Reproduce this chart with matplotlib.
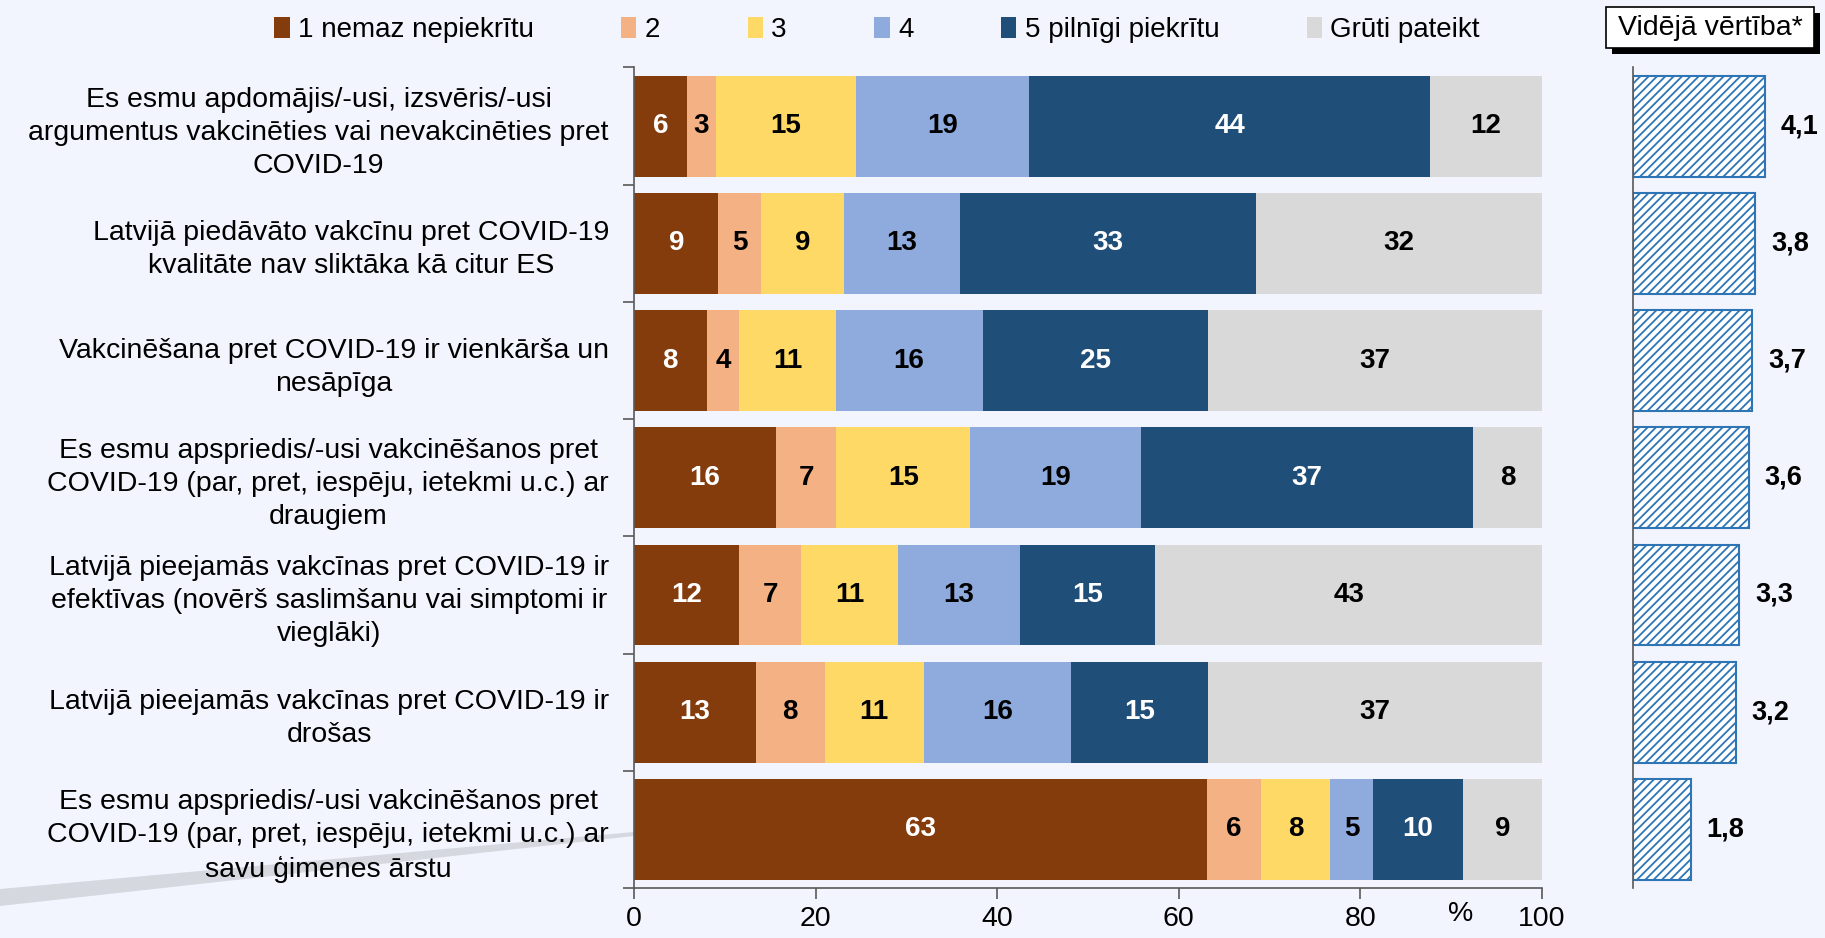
import matplotlib

matplotlib.use("Agg")
import matplotlib.pyplot as plt
from matplotlib.patches import Patch, Rectangle, Polygon

plt.rcParams.update(
    {
        "font.family": ["Liberation Sans", "DejaVu Sans"],
        "font.size": 20,
        "hatch.linewidth": 1.3,
    }
)

BG = "#F2F4FE"

statements = [
    "Es esmu apdomājis/-usi, izsvēris/-usi\nargumentus vakcinēties vai nevakcinēties pret\nCOVID-19",
    "Latvijā piedāvāto vakcīnu pret COVID-19\nkvalitāte nav sliktāka kā citur ES",
    "Vakcinēšana pret COVID-19 ir vienkārša un\nnesāpīga",
    "Es esmu apspriedis/-usi vakcinēšanos pret\nCOVID-19 (par, pret, iespēju, ietekmi u.c.) ar\ndraugiem",
    "Latvijā pieejamās vakcīnas pret COVID-19 ir\nefektīvas (novērš saslimšanu vai simptomi ir\nvieglāki)",
    "Latvijā pieejamās vakcīnas pret COVID-19 ir\ndrošas",
    "Es esmu apspriedis/-usi vakcinēšanos pret\nCOVID-19 (par, pret, iespēju, ietekmi u.c.) ar\nsavu ģimenes ārstu",
]

answers = ["1 nemaz nepiekrītu", "2", "3", "4", "5 pilnīgi piekrītu", "Grūti pateikt"]
colors = ["#843C0C", "#F4B183", "#FFD966", "#8FAADC", "#1F4E79", "#D9D9D9"]
text_colors = ["white", "black", "black", "black", "white", "black"]

# shares in %, one list per answer, rows in the order of statements
s1 = [5.8, 9.3, 8.0, 15.6, 11.6, 13.4, 63.1]
s2 = [3.2, 4.7, 3.6, 6.7, 6.8, 7.6, 5.9]
s3 = [15.4, 9.1, 10.6, 14.7, 10.7, 10.9, 7.7]
s4 = [19.1, 12.8, 16.2, 18.8, 13.4, 16.2, 4.7]
s5 = [44.2, 32.6, 24.8, 36.6, 14.9, 15.1, 9.9]
s_dk = [12.3, 31.5, 36.8, 7.6, 42.6, 36.8, 8.7]
shares = [s1, s2, s3, s4, s5, s_dk]

means = [4.1, 3.8, 3.7, 3.6, 3.3, 3.2, 1.8]

fig = plt.figure(figsize=(18.25, 9.38), dpi=100, facecolor=BG)

# decorative grey streak bottom left
fig.patches.append(
    Polygon(
        [(0, 1 - 889 / 938), (634 / 1825, 1 - 832 / 938), (634 / 1825, 1 - 836 / 938), (0, 1 - 906 / 938)],
        closed=True,
        transform=fig.transFigure,
        facecolor="#D6D8E0",
        edgecolor="none",
        zorder=-5,
    )
)

ax = fig.add_axes([634 / 1825, 1 - 888 / 938, 908 / 1825, 820.5 / 938])
ax.set_facecolor("none")
ax.set_zorder(2)

n = len(statements)
ypos = list(range(n))
left = [0.0] * n
for vals, col, tcol in zip(shares, colors, text_colors):
    ax.barh(ypos, vals, left=left, height=0.86, color=col, edgecolor="none", zorder=2)
    for y, v, l in zip(ypos, vals, left):
        ax.text(l + v / 2, y, f"{v:.0f}", ha="center", va="center",
                color=tcol, fontsize=20, fontweight="bold", zorder=3)
    left = [a + b for a, b in zip(left, vals)]

ax.set_xlim(0, 100)
ax.set_ylim(n - 0.5, -0.5)
ax.set_xticks([0, 20, 40, 60, 80, 100])
ax.tick_params(axis="x", length=8, width=1.2, color="#595959", pad=5, labelsize=20.5)
ax.set_yticks(ypos)
ax.set_yticklabels(statements, ha="right", ma="center", linespacing=1.35)
ax.tick_params(axis="y", which="major", length=0, pad=18, labelsize=20.5)
ax.set_yticks([i - 0.5 for i in range(n + 1)], minor=True)
ax.tick_params(axis="y", which="minor", length=8, width=1.2, color="#595959")
for side in ["top", "right"]:
    ax.spines[side].set_visible(False)
for side in ["left", "bottom"]:
    ax.spines[side].set_color("#595959")
    ax.spines[side].set_linewidth(1.2)

ax.annotate("%", xy=(91, 0), xycoords=("data", "axes fraction"),
            xytext=(0, -19), textcoords="offset points",
            ha="center", va="center", fontsize=20.5)

# mean values panel
ax2 = fig.add_axes([1633 / 1825, 1 - 888 / 938, 161 / 1825, 820.5 / 938])
ax2.set_facecolor("none")
ax2.barh(ypos, means, height=0.86, color="white", edgecolor="#2E75B6",
         hatch="////", linewidth=1.5, zorder=2)
for y, m in zip(ypos, means):
    ax2.annotate(f"{m:.1f}".replace(".", ","), xy=(m, y), xytext=(25, 0),
                 textcoords="offset points", ha="center", va="center",
                 fontsize=19.5, fontweight="bold")
ax2.set_xlim(0, 5)
ax2.set_ylim(n - 0.5, -0.5)
ax2.set_xticks([])
ax2.set_yticks([])
for side in ["top", "right", "bottom"]:
    ax2.spines[side].set_visible(False)
ax2.spines["left"].set_color("#595959")
ax2.spines["left"].set_linewidth(1.2)

# "Vidējā vērtība*" box with shadow
fig.patches.append(Rectangle((1612 / 1825, 1 - 54 / 938), 208 / 1825, 41 / 938,
                             transform=fig.transFigure, facecolor="black", edgecolor="none"))
fig.patches.append(Rectangle((1606 / 1825, 1 - 48 / 938), 208 / 1825, 41 / 938,
                             transform=fig.transFigure, facecolor="white",
                             edgecolor="black", linewidth=1.2))
fig.text(1710 / 1825, 1 - 28 / 938, "Vidējā vērtība*", ha="center", va="center", fontsize=20.5)

handles = [Patch(facecolor=c, edgecolor="none") for c in colors]
fig.legend(handles, answers, loc="center", bbox_to_anchor=(877 / 1825, 1 - 30 / 938),
           ncol=6, frameon=False, fontsize=20, handlelength=0.55, handleheight=0.8,
           handletextpad=0.3, columnspacing=3.15)

fig.savefig("out.png", dpi=100, facecolor=BG)
